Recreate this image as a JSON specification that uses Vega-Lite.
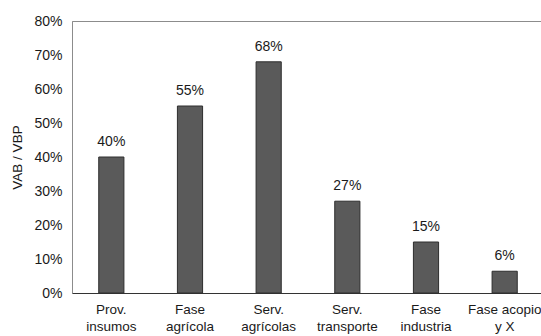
{
  "$schema": "https://vega.github.io/schema/vega-lite/v6.json",
  "width": 472,
  "height": 272,
  "autosize": {"type": "none"},
  "padding": {"left": 72, "top": 21, "right": 0, "bottom": 43},
  "background": "white",
  "config": {
    "font": "Liberation Sans",
    "view": {"stroke": "#8c8c8c", "strokeWidth": 1}
  },
  "data": {
    "values": [
      {"etapa": "Prov.\ninsumos", "ratio": 0.40},
      {"etapa": "Fase\nagrícola", "ratio": 0.55},
      {"etapa": "Serv.\nagrícolas", "ratio": 0.68},
      {"etapa": "Serv.\ntransporte", "ratio": 0.27},
      {"etapa": "Fase\nindustria", "ratio": 0.15},
      {"etapa": "Fase acopio\ny X", "ratio": 0.064}
    ]
  },
  "encoding": {
    "x": {
      "field": "etapa",
      "type": "nominal",
      "sort": null,
      "scale": {"paddingInner": 0.68, "paddingOuter": 0.34},
      "axis": {
        "title": null,
        "labelAngle": 0,
        "labelExpr": "split(datum.value, '\\n')",
        "labelFont": "Liberation Sans",
        "labelFontSize": 13.5,
        "labelColor": "#1a1a1a",
        "labelLineHeight": 17,
        "labelPadding": 9,
        "ticks": false,
        "domainColor": "#333333",
        "domainWidth": 1
      }
    },
    "y": {
      "field": "ratio",
      "type": "quantitative",
      "scale": {"domain": [0, 0.8], "nice": false},
      "axis": {
        "title": "VAB / VBP",
        "titleFont": "Liberation Sans",
        "titleFontSize": 13.5,
        "titleFontWeight": "normal",
        "titleColor": "#1a1a1a",
        "titlePadding": 9,
        "values": [0, 0.1, 0.2, 0.3, 0.4, 0.5, 0.6, 0.7, 0.8],
        "format": ".0%",
        "labelFont": "Liberation Sans",
        "labelFontSize": 14,
        "labelColor": "#1a1a1a",
        "labelPadding": 10,
        "ticks": false,
        "grid": false,
        "domainColor": "#8c8c8c"
      }
    }
  },
  "layer": [
    {
      "mark": {"type": "bar", "color": "#5a5a5a", "stroke": "#2e2e2e", "strokeWidth": 1}
    },
    {
      "mark": {"type": "text", "baseline": "bottom", "dy": -8, "fontSize": 14, "color": "#1a1a1a", "font": "Liberation Sans"},
      "encoding": {
        "text": {"field": "ratio", "type": "quantitative", "format": ".0%"}
      }
    }
  ]
}
